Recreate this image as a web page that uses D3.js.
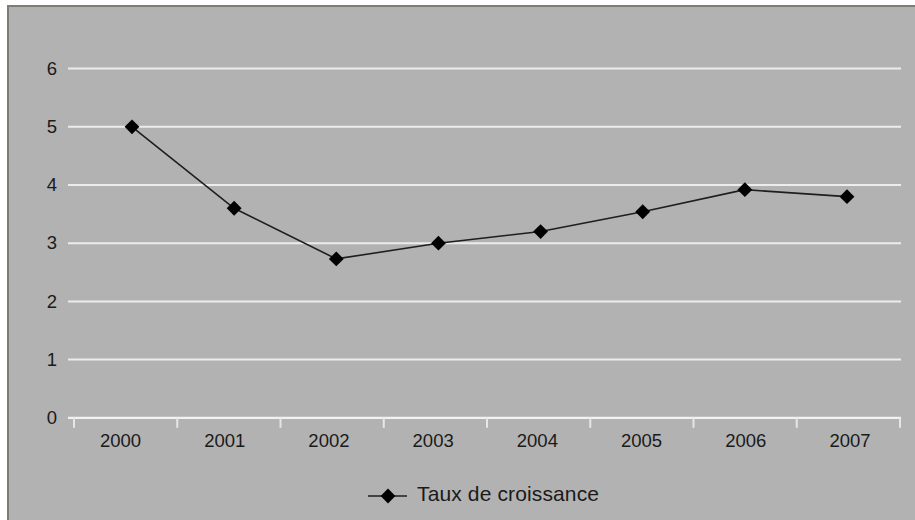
<!DOCTYPE html>
<html>
<head>
<meta charset="utf-8">
<script src="https://cdn.jsdelivr.net/npm/d3@7"></script>
<style>
  html, body { margin: 0; padding: 0; background: #ffffff; }
  svg { display: block; }
  text { font-family: "Liberation Sans", Arial, sans-serif; fill: #1a1a1a; }
</style>
</head>
<body>
<svg id="chart" width="915" height="520"></svg>
<script>
// Growth rate by year
const years = ["2000", "2001", "2002", "2003", "2004", "2005", "2006", "2007"];
const growth = [5.0, 3.6, 2.73, 3.0, 3.2, 3.54, 3.92, 3.8];
const yTicks = [0, 1, 2, 3, 4, 5, 6];
const seriesName = "Taux de croissance";

const W = 915, H = 520;
const svg = d3.select("#chart");

// Frame and background
svg.append("rect")
  .attr("x", 8).attr("y", 6)
  .attr("width", W).attr("height", H)
  .attr("fill", "#b2b2b2")
  .attr("stroke", "#7d7d76").attr("stroke-width", 2);

const plot = { left: 68, right: 901, top: 40, bottom: 417.8 };

const y = d3.scaleLinear().domain([0, 6]).range([plot.bottom, 68.6]);

// Category scales: tick boundaries, label centres and marker centres
const xBand = d3.scaleBand().domain(years).range([74, 900]).paddingInner(0).paddingOuter(0);
const xLabel = d3.scalePoint().domain(years).range([120.5, 850]);
const xPoint = d3.scalePoint().domain(years).range([132, 847]);

// Horizontal gridlines
svg.append("g")
  .selectAll("line")
  .data(yTicks.filter(d => d > 0))
  .join("line")
  .attr("x1", plot.left).attr("x2", plot.right)
  .attr("y1", d => y(d)).attr("y2", d => y(d))
  .attr("stroke", "#ececec").attr("stroke-width", 2);

// Y axis labels
svg.append("g")
  .selectAll("text")
  .data(yTicks)
  .join("text")
  .attr("x", 57).attr("y", d => y(d))
  .attr("dy", "0.33em")
  .attr("text-anchor", "end")
  .attr("font-size", 18.5)
  .text(d => d);

// X axis line and ticks
svg.append("line")
  .attr("x1", plot.left).attr("x2", plot.right)
  .attr("y1", plot.bottom).attr("y2", plot.bottom)
  .attr("stroke", "#f2f2f2").attr("stroke-width", 2.2);

const tickPos = years.map(d => xBand(d)).concat([xBand(years[years.length - 1]) + xBand.bandwidth()]);
svg.append("g")
  .selectAll("line")
  .data(tickPos)
  .join("line")
  .attr("x1", d => d).attr("x2", d => d)
  .attr("y1", plot.bottom).attr("y2", plot.bottom + 10)
  .attr("stroke", "#e6e6e6").attr("stroke-width", 2);

svg.append("g")
  .selectAll("text")
  .data(years)
  .join("text")
  .attr("x", d => xLabel(d))
  .attr("y", 447)
  .attr("text-anchor", "middle")
  .attr("font-size", 18.5)
  .text(d => d);

// Series line
const pts = years.map((yr, i) => ({ yr, v: growth[i] }));
svg.append("path")
  .datum(pts)
  .attr("fill", "none")
  .attr("stroke", "#1e1e1e").attr("stroke-width", 1.6)
  .attr("d", d3.line().x(d => xPoint(d.yr)).y(d => y(d.v)));

// Diamond markers
const diamond = d3.symbol().type(d3.symbolSquare).size(110);
svg.append("g")
  .selectAll("path")
  .data(pts)
  .join("path")
  .attr("d", diamond)
  .attr("transform", d => `translate(${xPoint(d.yr)},${y(d.v)}) rotate(45)`)
  .attr("fill", "#000");

// Legend
const lg = svg.append("g");
lg.append("line")
  .attr("x1", 368).attr("x2", 407)
  .attr("y1", 496).attr("y2", 496)
  .attr("stroke", "#1e1e1e").attr("stroke-width", 1.6);
lg.append("path")
  .attr("d", diamond)
  .attr("transform", "translate(388,496) rotate(45)")
  .attr("fill", "#000");
lg.append("text")
  .attr("x", 417).attr("y", 501)
  .attr("font-size", 21)
  .attr("textLength", 182)
  .text(seriesName);
</script>
</body>
</html>
